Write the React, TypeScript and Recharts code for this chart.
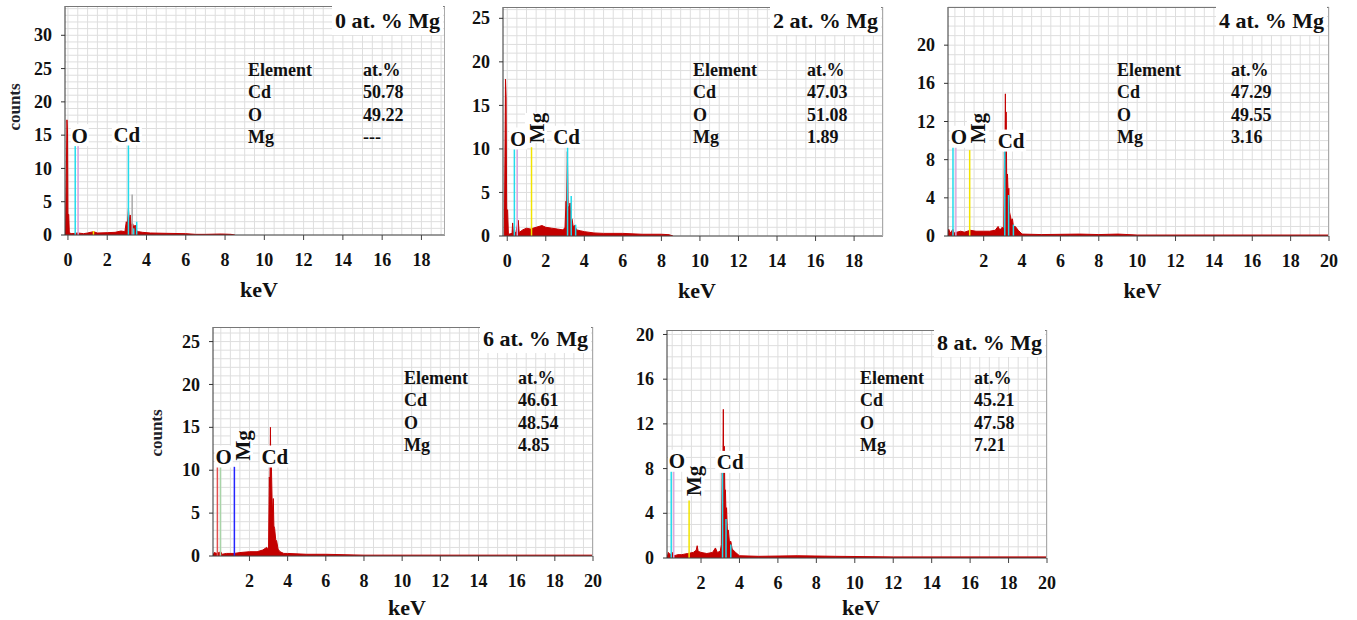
import React from 'react';
import { ComposedChart, Area, XAxis, YAxis, CartesianGrid, ReferenceLine, ReferenceDot } from 'recharts';

const FONT = "'Liberation Serif', 'Times New Roman', Times, serif";

// EDX spectra, [keV, counts]
const spectrum0: [number, number][] = [
  [-0.12, 0], [-0.08, 10], [-0.05, 17.3], [-0.02, 15.2], [0.0, 3.2], [0.04, 3.1], [0.07, 0.3], [0.2, 0.2],
  [0.5, 0.3], [0.8, 0.2], [1.0, 0.3], [1.3, 0.5], [1.5, 0.3], [2.0, 0.35], [2.4, 0.4], [2.7, 0.6], [2.9, 0.5],
  [2.97, 2.0], [3.02, 1.2], [3.08, 4.0], [3.12, 2.2], [3.17, 3.0], [3.22, 1.5], [3.3, 1.7], [3.36, 1.0],
  [3.42, 1.5], [3.5, 0.6], [3.6, 0.5], [3.8, 0.4], [4.2, 0.3], [5, 0.25], [6, 0.2], [6.5, 0.1], [7, 0.1],
  [7.8, 0.15], [8.3, 0.1], [8.5, 0],
];
const spectrum2: [number, number][] = [
  [-0.15, 0], [-0.12, 9.1], [-0.09, 18], [-0.06, 16], [-0.03, 3.1], [0.02, 3], [0.06, 0.2], [0.25, 0.3],
  [0.28, 1.5], [0.32, 0.4], [0.45, 0.4], [0.57, 1.8], [0.62, 0.4], [0.8, 0.7], [1.0, 0.9], [1.2, 0.8],
  [1.5, 1.0], [1.8, 1.2], [2.0, 1.0], [2.3, 0.9], [2.6, 0.8], [2.9, 0.7], [3.0, 1.0], [3.05, 4.0], [3.08, 3.2],
  [3.12, 9.7], [3.16, 3.5], [3.2, 3.0], [3.26, 3.8], [3.3, 2.0], [3.36, 2.0], [3.42, 1.1], [3.5, 1.2], [3.6, 0.7],
  [3.8, 0.6], [4.0, 0.5], [4.5, 0.35], [5.0, 0.3], [6.0, 0.3], [7.0, 0.2], [8.0, 0.2], [8.4, 0.15], [8.6, 0],
];
const spectrum4: [number, number][] = [
  [0.14, 0], [0.18, 0.7], [0.25, 0.3], [0.4, 0.7], [0.45, 0.3], [0.6, 0.4], [0.8, 0.5], [1.0, 0.4], [1.3, 0.6],
  [1.6, 0.5], [2.0, 0.5], [2.3, 0.5], [2.6, 0.6], [2.75, 1.0], [2.85, 0.6], [2.95, 0.9], [3.05, 0.8], [3.08, 8.8],
  [3.1, 7], [3.13, 14.9], [3.15, 9], [3.17, 13], [3.2, 6], [3.24, 6.5], [3.28, 4], [3.31, 5.0], [3.35, 2.5],
  [3.4, 2], [3.45, 1.6], [3.5, 1.8], [3.55, 1.0], [3.65, 1.0], [3.8, 0.6], [4.0, 0.2], [5, 0.15], [7, 0.2],
  [8, 0.15], [9, 0.2], [10, 0.1], [20, 0.1],
];
const spectrum6: [number, number][] = [
  [0.09, 0], [0.15, 0.4], [0.3, 0.3], [0.5, 0.5], [0.55, 0.2], [0.8, 0.3], [1.2, 0.3], [1.5, 0.4], [2.0, 0.5],
  [2.4, 0.5], [2.7, 0.7], [2.9, 1.0], [3.0, 0.8], [3.04, 9.2], [3.07, 8], [3.1, 15.0], [3.12, 9.5], [3.15, 10.5],
  [3.2, 5], [3.25, 6.7], [3.28, 3.5], [3.32, 3.2], [3.38, 1.8], [3.42, 1.8], [3.5, 0.8], [3.6, 0.5], [3.8, 0.3],
  [4.0, 0.3], [5, 0.2], [6, 0.2], [8, 0.1], [10, 0.1], [20, 0.1],
];
const spectrum8: [number, number][] = [
  [0.23, 0], [0.3, 0.5], [0.4, 0.3], [0.5, 0.5], [0.6, 0.2], [0.8, 0.3], [1.0, 0.3], [1.3, 0.4], [1.6, 0.5],
  [1.75, 0.7], [1.8, 1.1], [1.85, 0.6], [2.0, 0.5], [2.3, 0.4], [2.6, 0.5], [2.75, 0.9], [2.85, 0.5], [3.0, 0.6],
  [3.06, 1.2], [3.1, 7.8], [3.13, 7], [3.16, 13.3], [3.18, 8], [3.21, 10], [3.24, 6], [3.27, 6.1], [3.3, 4],
  [3.33, 4.5], [3.37, 2.5], [3.42, 2.5], [3.48, 1.4], [3.55, 1.5], [3.62, 0.8], [3.8, 0.5], [4.0, 0.2], [5, 0.15],
  [7, 0.2], [9, 0.15], [12, 0.1], [20, 0.1],
];

// identification lines, [keV, counts, line]
const markers0: [number, number, string][] = [
  [0.37, 13.6, 'O'], [0.52, 13.6, 'O2'], [1.3, 0.6, 'Mg'], [3.08, 13.6, 'Cd'], [3.27, 6.1, 'esc'], [3.35, 1.0, 'Cd'], [3.5, 2.0, 'Cd'],
];
const markers2: [number, number, string][] = [
  [0.37, 10.2, 'O'], [0.52, 10.2, 'O2'], [1.26, 10.2, 'Mg'], [3.13, 10.2, 'Cd'], [3.32, 4.6, 'Cd'], [3.55, 1.3, 'Cd'],
];
const markers4: [number, number, string][] = [
  [0.4, 9.6, 'O'], [0.55, 9.6, 'O2'], [1.27, 9.0, 'Mg'], [3.1, 9.0, 'Cd'], [3.3, 4.3, 'Cd'], [3.55, 1.2, 'Cd'],
];
const markers6: [number, number, string][] = [
  [0.32, 10.4, 'O'], [0.48, 10.4, 'O2'], [1.21, 10.4, 'Mg'],
];
const markers8: [number, number, string][] = [
  [0.45, 8.0, 'O'], [0.58, 8.0, 'O2'], [1.38, 5.15, 'Mg'], [3.12, 8.0, 'Cd'], [3.3, 3.5, 'Cd'], [3.55, 1.2, 'Cd'],
];

// peak labels, [text, keV, counts, vertical]
const tags0: [string, number, number, boolean][] = [['O', 0.6, 15, false], ['Cd', 3.0, 15.1, false]];
const tags2: [string, number, number, boolean][] = [['O', 0.57, 11.2, false], ['Mg', 1.49, 12.4, true], ['Cd', 3.08, 11.4, false]];
const tags4: [string, number, number, boolean][] = [['O', 0.71, 10.4, false], ['Mg', 1.7, 11.3, true], ['Cd', 3.43, 10.0, false]];
const tags6: [string, number, number, boolean][] = [['O', 0.65, 11.6, false], ['Mg', 1.61, 12.9, true], ['Cd', 3.33, 11.6, false]];
const tags8: [string, number, number, boolean][] = [['O', 0.75, 8.7, false], ['Mg', 1.61, 6.9, true], ['Cd', 3.52, 8.6, false]];

const tableHeader = ['Element', 'at.%'];
const elements = ['Cd', 'O', 'Mg'];
const atPct0 = ['50.78', '49.22', '---'];
const atPct2 = ['47.03', '51.08', '1.89'];
const atPct4 = ['47.29', '49.55', '3.16'];
const atPct6 = ['46.61', '48.54', '4.85'];
const atPct8 = ['45.21', '47.58', '7.21'];

const titles = ['0 at. % Mg', '2 at. % Mg', '4 at. % Mg', '6 at. % Mg', '8 at. % Mg'];

const xTicksFrom0 = [0, 2, 4, 6, 8, 10, 12, 14, 16, 18];
const xTicksFrom2 = [2, 4, 6, 8, 10, 12, 14, 16, 18, 20];
const yTicks0 = [0, 5, 10, 15, 20, 25, 30];
const yTicks2 = [0, 5, 10, 15, 20, 25];
const yTicks4 = [0, 4, 8, 12, 16, 20];
const yTicks6 = [0, 5, 10, 15, 20, 25];
const yTicks8 = [0, 4, 8, 12, 16, 20];

const paletteDefault: Record<string, string> = {
  O: '#22dcec', O2: '#d8a8e0', Mg: '#f2e400', Cd: '#22dcec', esc: '#a9a9a9',
};
const palette6: Record<string, string> = { ...paletteDefault, O: '#e45050', O2: '#a8d4a8', Mg: '#2424ff' };

const panels = [
  { title: titles[0], spectrum: spectrum0, markers: markers0, tags: tags0, pct: atPct0, xTicks: xTicksFrom0, yTicks: yTicks0, palette: paletteDefault,
    left: 65, top: 6, w: 380, h: 229, xDomain: [-0.15, 19.2], yDomain: [0, 34.4], counts: -51, countsY: 101,
    elemX: 183, valX: 298, rowY: 64, keVY: 55, titleY: 22 },
  { title: titles[1], spectrum: spectrum2, markers: markers2, tags: tags2, pct: atPct2, xTicks: xTicksFrom0, yTicks: yTicks2, palette: paletteDefault,
    left: 503, top: 7, w: 380, h: 229, xDomain: [-0.22, 19.5], yDomain: [0, 26.3], counts: 0, countsY: 0,
    elemX: 190, valX: 304, rowY: 63, keVY: 54.5, titleY: 21.3 },
  { title: titles[2], spectrum: spectrum4, markers: markers4, tags: tags4, pct: atPct4, xTicks: xTicksFrom2, yTicks: yTicks4, palette: paletteDefault,
    left: 948, top: 7, w: 381, h: 229, xDomain: [0.14, 20], yDomain: [0, 24], counts: 0, countsY: 0,
    elemX: 169, valX: 283, rowY: 63, keVY: 55, titleY: 21 },
  { title: titles[3], spectrum: spectrum6, markers: markers6, tags: tags6, pct: atPct6, xTicks: xTicksFrom2, yTicks: yTicks6, palette: palette6,
    left: 213, top: 327, w: 380, h: 229, xDomain: [0.09, 20], yDomain: [0, 26.7], counts: -57, countsY: 105.5,
    elemX: 191, valX: 305, rowY: 51, keVY: 51.5, titleY: 19.5 },
  { title: titles[4], spectrum: spectrum8, markers: markers8, tags: tags8, pct: atPct8, xTicks: xTicksFrom2, yTicks: yTicks8, palette: paletteDefault,
    left: 667, top: 330, w: 380, h: 228, xDomain: [0.23, 20], yDomain: [0, 20.4], counts: 0, countsY: 0,
    elemX: 193, valX: 307, rowY: 48, keVY: 49.5, titleY: 20 },
];

const steps = (from: number, to: number, step: number) => {
  const out: number[] = [];
  for (let v = Math.ceil(from / step) * step; v <= to + 1e-9; v += step) out.push(+v.toFixed(3));
  return out;
};

const ElementTag = ({ cx, cy, text, vertical }: any) => {
  const w = text === 'O' ? 18 : 30;
  const inner = (
    <>
      <rect x={-w / 2} y={-11} width={w} height={22} fill="#fff" />
      <text x={0} y={0} dy="0.36em" textAnchor="middle" fontFamily={FONT} fontWeight="bold" fontSize={21} fill="#111">
        {text}
      </text>
    </>
  );
  if (vertical) return <g transform={`translate(${cx},${cy}) rotate(-90)`}>{inner}</g>;
  return <g transform={`translate(${cx},${cy})`}>{inner}</g>;
};

const XTick = ({ x, y, payload }: any) => (
  <text x={x} y={y} dy="0.71em" textAnchor="middle" fontFamily={FONT} fontWeight="bold" fontSize={18} fill="#111">
    {payload.value}
  </text>
);

const YTick = ({ x, y, payload }: any) => (
  <text x={x} y={y} dy="0.34em" textAnchor="end" fontFamily={FONT} fontWeight="bold" fontSize={18} fill="#111">
    {payload.value}
  </text>
);

const Y_W = 60;
const M_TOP = 10;
const M_RIGHT = 20;
const X_H = 40;

const textStyle: React.CSSProperties = {
  position: 'absolute', fontFamily: FONT, fontWeight: 'bold', color: '#111', whiteSpace: 'nowrap',
};

const Panel = ({ p }: { p: (typeof panels)[number] }) => {
  const data = p.spectrum.map(([kev, counts]) => ({ kev, counts }));
  return (
    <>
      <div style={{ position: 'absolute', left: p.left - Y_W, top: p.top - M_TOP }}>
        <ComposedChart
          width={Y_W + p.w + M_RIGHT}
          height={M_TOP + p.h + X_H}
          data={data}
          margin={{ top: M_TOP, right: M_RIGHT, bottom: 0, left: 0 }}
        >
          <CartesianGrid
            stroke="#dedede"
            strokeWidth={1}
            verticalValues={steps(p.xDomain[0], p.xDomain[1], 0.5)}
            horizontalValues={steps(0, p.yDomain[1], 1)}
          />
          <XAxis
            type="number"
            dataKey="kev"
            domain={p.xDomain}
            ticks={p.xTicks}
            interval={0}
            allowDataOverflow
            height={X_H}
            tick={<XTick />}
            tickSize={5}
            tickMargin={13}
            stroke="#444"
          />
          <YAxis
            type="number"
            domain={p.yDomain}
            ticks={p.yTicks}
            interval={0}
            allowDataOverflow
            width={Y_W}
            tick={<YTick />}
            tickSize={4}
            tickMargin={9}
            stroke="#333"
          />
          <Area
            type="linear"
            dataKey="counts"
            stroke="#c30000"
            strokeWidth={1}
            fill="#c30000"
            fillOpacity={1}
            dot={false}
            activeDot={false}
            isAnimationActive={false}
          />
          {p.markers.map(([kev, counts, line], i) => (
            <ReferenceLine
              key={`m${i}`}
              segment={[{ x: kev, y: 0 }, { x: kev, y: counts }]}
              stroke={p.palette[line]}
              strokeWidth={1.5}
            />
          ))}
          {p.tags.map(([text, kev, counts, vertical]) => (
            <ReferenceDot
              key={text}
              x={kev}
              y={counts}
              r={0}
              shape={(s: any) => <ElementTag cx={s.cx} cy={s.cy} text={text} vertical={vertical} />}
            />
          ))}
        </ComposedChart>
      </div>
      {/* frame top/right */}
      <div
        style={{
          position: 'absolute', left: p.left, top: p.top, width: p.w, height: p.h,
          borderTop: '1px solid #777', borderRight: '1px solid #aaa', boxSizing: 'border-box', pointerEvents: 'none',
        }}
      />
      {/* title */}
      <div style={{ ...textStyle, left: p.left, top: p.top + p.titleY - 18.4, width: p.w - 2, textAlign: 'right', fontSize: 22, lineHeight: '22px' }}>
        <span style={{ background: '#fff', padding: '2px 3px' }}>{p.title}</span>
      </div>
      {/* composition table */}
      {[tableHeader[0], ...elements].map((el, i) => (
        <div key={`e${i}`} style={{ ...textStyle, left: p.left + p.elemX, top: p.top + p.rowY + i * 22.3 - 9, fontSize: 18, lineHeight: '18px' }}>
          {el}
        </div>
      ))}
      {[tableHeader[1], ...p.pct].map((v, i) => (
        <div key={`v${i}`} style={{ ...textStyle, left: p.left + p.valX, top: p.top + p.rowY + i * 22.3 - 9, fontSize: 18, lineHeight: '18px' }}>
          {v}
        </div>
      ))}
      {/* axis titles */}
      <div style={{ ...textStyle, left: p.left + p.w / 2 + 4, top: p.top + p.h + p.keVY - 11, fontSize: 22, lineHeight: '22px', transform: 'translateX(-50%)' }}>
        keV
      </div>
      {p.counts !== 0 && (
        <div
          style={{
            ...textStyle, left: p.left + p.counts, top: p.top + p.countsY, fontSize: 17, lineHeight: '17px', color: '#1f1f2a',
            transform: 'translate(-50%, -50%) rotate(-90deg)',
          }}
        >
          counts
        </div>
      )}
    </>
  );
};

export default function App() {
  return (
    <div style={{ position: 'absolute', left: 0, top: 0, width: 1357, height: 620, background: '#fff', overflow: 'hidden' }}>
      {panels.map((p) => (
        <Panel key={p.title} p={p} />
      ))}
    </div>
  );
}
